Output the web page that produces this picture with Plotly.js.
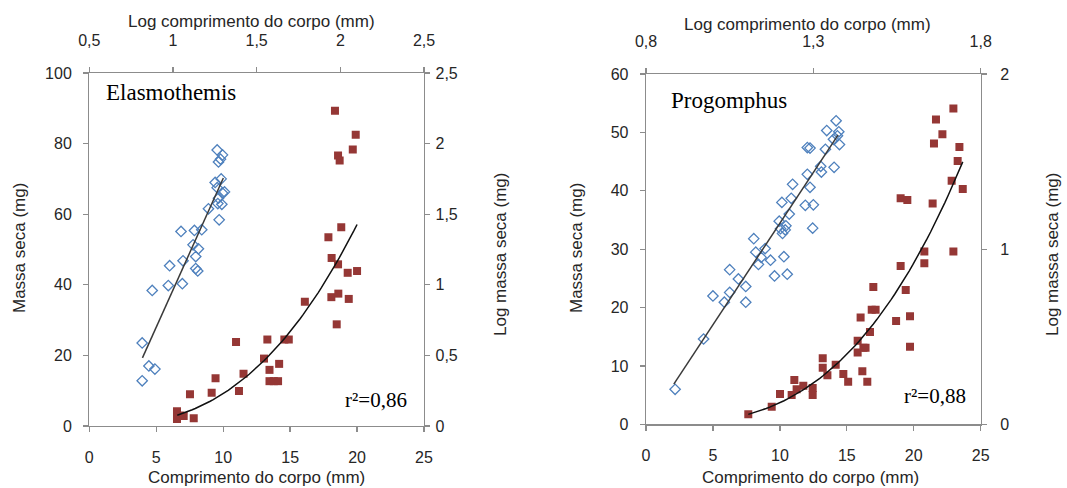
<!DOCTYPE html>
<html>
<head>
<meta charset="utf-8">
<script src="https://cdn.plot.ly/plotly-3.0.1.min.js"></script>
<style>html,body{margin:0;padding:0;background:#fff;}#chart{width:1067px;height:488px;}</style>
</head>
<body>
<div id="chart"></div>
<script>
// ---------- Elasmothemis ----------
// linear data: body length (mm) vs dry mass (mg)
const elaLenMm  = [18.35,19.9,19.68,18.58,18.7,18.82,17.86,18.1,18.58,19.3,20.0,18.08,18.6,19.38,18.48,16.1,14.57,14.9,13.3,10.96,13.05,13.46,14.18,13.46,13.78,14.1,11.52,11.18,9.43,9.14,7.52,6.55,6.55,6.8,7.05,7.8];
const elaMassMg = [89.3,82.5,78.3,76.6,75.2,56.3,53.5,47.6,45.8,43.4,43.9,36.5,37.5,36.0,28.8,35.2,24.5,24.5,24.5,23.8,19.1,15.9,17.6,12.7,12.7,12.7,14.8,9.9,13.5,9.4,9.0,4.2,2.0,3.0,2.8,2.2];
// log data: log body length vs log dry mass
const elaLogLen  = [0.816,0.816,0.856,0.892,0.876,0.972,0.980,1.056,1.060,1.048,1.128,1.120,1.136,1.152,1.136,1.148,1.172,1.212,1.264,1.272,1.296,1.284,1.252,1.288,1.264,1.296,1.308,1.272,1.292,1.268,1.276];
const elaLogMass = [0.588,0.320,0.425,0.403,0.960,0.995,1.135,1.008,1.170,1.378,1.385,1.283,1.200,1.255,1.115,1.098,1.390,1.538,1.955,1.870,1.920,1.890,1.725,1.750,1.688,1.650,1.658,1.613,1.570,1.575,1.460];
// fitted power model: log M = a + b log L
const elaFitA = -1.673, elaFitB = 2.636, elaFitLmin = 6.57, elaFitLmax = 20.0;
const elaLabel = "Elasmothemis", elaR2 = "r²=0,86";

// ---------- Progomphus ----------
const proLenMm  = [22.96,21.66,22.14,21.51,23.41,23.28,22.83,23.66,19.02,19.52,21.41,20.79,22.96,20.79,19.02,16.98,19.4,16.86,17.15,16.03,19.72,18.68,16.73,15.81,15.81,16.24,16.4,19.72,13.2,13.2,13.55,14.17,14.74,15.1,16.16,16.53,11.08,11.75,11.25,10.88,12.45,12.45,10.01,9.39,7.64];
const proMassMg = [54.1,52.2,49.7,48.1,47.5,45.1,41.7,40.3,38.7,38.4,37.8,29.6,29.6,27.6,27.1,23.5,23.0,19.6,19.6,18.3,18.5,17.7,15.8,14.3,12.3,13.1,13.1,13.3,11.3,9.7,8.4,10.2,8.6,7.3,9.1,7.3,7.6,6.6,6.0,5.0,6.2,5.0,5.2,3.0,1.7];
const proLogLen  = [0.887,0.972,1.000,1.034,1.050,1.050,1.076,1.098,1.098,1.122,1.128,1.136,1.156,1.172,1.184,1.212,1.222,1.198,1.202,1.216,1.206,1.228,1.234,1.238,1.276,1.290,1.282,1.300,1.298,1.282,1.290,1.324,1.322,1.336,1.362,1.340,1.360,1.376,1.378,1.368,1.372,1.208,1.218,1.144];
const proLogMass = [0.200,0.487,0.733,0.697,0.753,0.883,0.830,0.787,0.697,1.060,0.983,0.913,1.003,0.937,0.847,0.957,0.857,1.160,1.117,1.110,1.267,1.200,1.290,1.370,1.250,1.353,1.427,1.253,1.120,1.580,1.577,1.440,1.473,1.570,1.467,1.677,1.627,1.670,1.597,1.733,1.647,1.090,1.133,0.953];
const proFitA = -2.332, proFitB = 2.9, proFitLmin = 7.64, proFitLmax = 23.66;
const proLabel = "Progomphus", proR2 = "r²=0,88";

// ---------- axis text ----------
const xTitle = "Comprimento do corpo (mm)";
const xLogTitle = "Log comprimento do corpo (mm)";
const yTitle = "Massa seca (mg)";
const yLogTitle = "Log massa seca (mg)";

// ---------- styles ----------
const BLUE = "#4F81BD", RED = "#953735";
const diamond = {symbol: "diamond-open", size: 8, color: BLUE, line: {color: BLUE, width: 1.3}};
const square = {symbol: "square", size: 8, color: RED, line: {width: 0}};

function fitCurve(a, b, lmin, lmax) {
  const L = [], M = [], lL = [], lM = [];
  const n = 60;
  for (let i = 0; i <= n; i++) {
    const l = lmin + (lmax - lmin) * i / n;
    const lg = Math.log10(l);
    L.push(l); M.push(Math.pow(10, a + b * lg));
    lL.push(lg); lM.push(a + b * lg);
  }
  return {L, M, lL, lM};
}
const ef = fitCurve(elaFitA, elaFitB, elaFitLmin, elaFitLmax);
const pf = fitCurve(proFitA, proFitB, proFitLmin, proFitLmax);

const traces = [
  {x: elaLogLen, y: elaLogMass, xaxis: "x2", yaxis: "y2", type: "scatter", mode: "markers", marker: diamond},
  {x: elaLenMm, y: elaMassMg, xaxis: "x", yaxis: "y", type: "scatter", mode: "markers", marker: square},
  {x: ef.lL, y: ef.lM, xaxis: "x2", yaxis: "y2", type: "scatter", mode: "lines", line: {color: "#3a3a3a", width: 1.5}},
  {x: ef.L, y: ef.M, xaxis: "x", yaxis: "y", type: "scatter", mode: "lines", line: {color: "#111", width: 1.5}},
  {x: proLogLen, y: proLogMass, xaxis: "x4", yaxis: "y4", type: "scatter", mode: "markers", marker: diamond},
  {x: proLenMm, y: proMassMg, xaxis: "x3", yaxis: "y3", type: "scatter", mode: "markers", marker: square},
  {x: pf.lL, y: pf.lM, xaxis: "x4", yaxis: "y4", type: "scatter", mode: "lines", line: {color: "#3a3a3a", width: 1.5}},
  {x: pf.L, y: pf.M, xaxis: "x3", yaxis: "y3", type: "scatter", mode: "lines", line: {color: "#111", width: 1.5}}
];

const W = 1067, H = 488;
const tickFont = {family: "Liberation Sans, Arial, sans-serif", size: 16, color: "#262626"};
const base = {showline: true, linecolor: "#8c8c8c", linewidth: 1.3, ticks: "outside", ticklen: 5,
  tickcolor: "#8c8c8c", tickwidth: 1.3, showgrid: false, zeroline: false, tickfont: tickFont, fixedrange: true};
function ax(o) { return Object.assign({}, base, o); }

const d1x = [89.3 / W, 424 / W], d1y = [1 - 426 / H, 1 - 73 / H];
const d2x = [646 / W, 980.7 / W], d2y = [1 - 424.3 / H, 1 - 74 / H];

const titleFont = {family: "Liberation Sans, Arial, sans-serif", size: 17, color: "#262626"};
const serif = {family: "Liberation Serif, Times New Roman, serif", size: 23, color: "#000"};
const serifSmall = {family: "Liberation Serif, Times New Roman, serif", size: 21, color: "#000"};
function ann(text, px, py, font, extra) {
  return Object.assign({text: text, xref: "paper", yref: "paper", x: px / W, y: 1 - py / H,
    showarrow: false, font: font, xanchor: "center", yanchor: "middle"}, extra || {});
}

const layout = {
  width: W, height: H, margin: {l: 0, r: 0, t: 0, b: 0},
  paper_bgcolor: "#fff", plot_bgcolor: "#fff", showlegend: false, separators: ", ",
  xaxis:  ax({domain: d1x, range: [0, 25], dtick: 5, tick0: 0, anchor: "y", ticklabelstandoff: 11}),
  xaxis2: ax({range: [0.5, 2.5], dtick: 0.5, tick0: 0.5, overlaying: "x", side: "top", anchor: "y", ticklabelstandoff: 14}),
  yaxis:  ax({domain: d1y, range: [0, 100], dtick: 20, tick0: 0, anchor: "x", ticklabelstandoff: 8}),
  yaxis2: ax({range: [0, 2.5], dtick: 0.5, tick0: 0, overlaying: "y", side: "right", anchor: "x", ticklabelstandoff: 2}),
  xaxis3: ax({domain: d2x, range: [0, 25], dtick: 5, tick0: 0, anchor: "y3", ticklabelstandoff: 11}),
  xaxis4: ax({range: [0.8, 1.8], dtick: 0.5, tick0: 0.8, overlaying: "x3", side: "top", anchor: "y3", ticklabelstandoff: 14}),
  yaxis3: ax({domain: d2y, range: [0, 60], dtick: 10, tick0: 0, anchor: "x3", ticklabelstandoff: 8}),
  yaxis4: ax({range: [0, 2], dtick: 1, tick0: 0, overlaying: "y3", side: "right", anchor: "x3", ticklabelstandoff: 10}),
  annotations: [
    ann(elaLabel, 104, 93, serif, {xanchor: "left"}),
    ann(elaR2, 409, 400, serifSmall, {xanchor: "right"}),
    ann(proLabel, 669, 101, serif, {xanchor: "left"}),
    ann(proR2, 968, 396, serifSmall, {xanchor: "right"}),
    ann(xLogTitle, 251, 22, titleFont),
    ann(xTitle, 256, 477, titleFont),
    ann(yTitle, 19, 248, titleFont, {textangle: -90}),
    ann(yLogTitle, 500, 255, titleFont, {textangle: -90}),
    ann(xLogTitle, 807, 24, titleFont),
    ann(xTitle, 810, 477, titleFont),
    ann(yTitle, 576, 248, titleFont, {textangle: -90}),
    ann(yLogTitle, 1052, 255, titleFont, {textangle: -90})
  ]
};

Plotly.newPlot("chart", traces, layout, {displayModeBar: false, staticPlot: true});
</script>
</body>
</html>
